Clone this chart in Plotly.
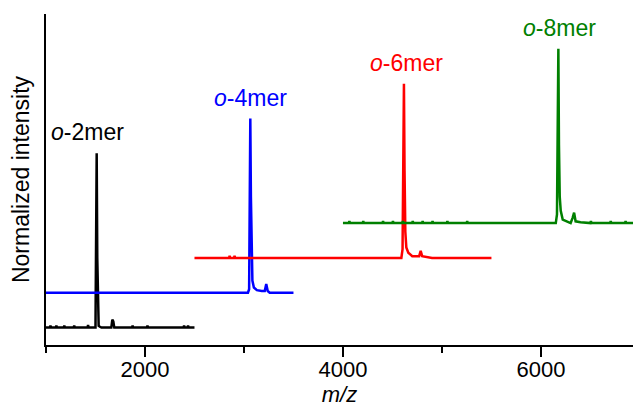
import plotly.graph_objects as go

# m/z and normalized intensity per spectrum (offset applied via offsets list)
names = ["o-2mer", "o-4mer", "o-6mer", "o-8mer"]
colors = ["#000000", "#0000FF", "#FF0000", "#008000"]
offsets = [0.10, 0.30, 0.50, 0.70]

mz_2 = [1000, 1040, 1045, 1050, 1100, 1105, 1110, 1180, 1185, 1190, 1280, 1285, 1290, 1420, 1425, 1430, 1500, 1506, 1512, 1518, 1524, 1532, 1545, 1560, 1600, 1660, 1670, 1680, 1690, 1700, 1870, 1875, 1880, 2020, 2025, 2030, 2390, 2395, 2400, 2430, 2435, 2440, 2500]
in_2 = [0.00, 0.00, 0.012, 0.00, 0.00, 0.012, 0.00, 0.00, 0.012, 0.00, 0.00, 0.012, 0.00, 0.00, 0.015, 0.00, 0.00, 0.50, 1.00, 0.40, 0.05, 0.01, 0.005, 0.00, 0.00, 0.00, 0.045, 0.035, 0.00, 0.00, 0.00, 0.012, 0.00, 0.00, 0.012, 0.00, 0.00, 0.012, 0.00, 0.00, 0.012, 0.00, 0.00]

mz_4 = [1000, 1500, 2000, 2500, 3000, 3040, 3052, 3058, 3064, 3070, 3076, 3085, 3100, 3130, 3180, 3210, 3225, 3240, 3260, 3300, 3400, 3500]
in_4 = [0.00, 0.00, 0.00, 0.00, 0.00, 0.00, 0.02, 0.40, 1.00, 0.55, 0.20, 0.07, 0.03, 0.015, 0.01, 0.01, 0.05, 0.01, 0.00, 0.00, 0.00, 0.00]

mz_6 = [2500, 2850, 2855, 2860, 2900, 2905, 2910, 3000, 3500, 4000, 4200, 4500, 4590, 4602, 4610, 4616, 4622, 4630, 4640, 4660, 4700, 4770, 4785, 4800, 4900, 5100, 5500]
in_6 = [0.00, 0.00, 0.012, 0.00, 0.00, 0.012, 0.00, 0.00, 0.00, 0.00, 0.00, 0.00, 0.00, 0.05, 0.55, 1.00, 0.50, 0.15, 0.06, 0.03, 0.01, 0.01, 0.04, 0.01, 0.00, 0.00, 0.00]

mz_8 = [4000, 4060, 4065, 4070, 4200, 4205, 4210, 4400, 4405, 4410, 4500, 4505, 4510, 4600, 4605, 4610, 4700, 4705, 4710, 4800, 4805, 4810, 4900, 4905, 4910, 5050, 5055, 5060, 5250, 5255, 5260, 5600, 5800, 6000, 6100, 6150, 6162, 6170, 6176, 6182, 6190, 6200, 6220, 6260, 6300, 6320, 6335, 6350, 6400, 6500, 6505, 6510, 6700, 6705, 6710, 6850, 6855, 6860, 7000]
in_8 = [0.00, 0.00, 0.012, 0.00, 0.00, 0.012, 0.00, 0.00, 0.012, 0.00, 0.00, 0.012, 0.00, 0.00, 0.012, 0.00, 0.00, 0.012, 0.00, 0.00, 0.012, 0.00, 0.00, 0.012, 0.00, 0.00, 0.012, 0.00, 0.00, 0.012, 0.00, 0.00, 0.00, 0.00, 0.00, 0.00, 0.05, 0.55, 1.00, 0.45, 0.15, 0.07, 0.02, 0.01, 0.00, 0.03, 0.06, 0.01, 0.005, 0.00, 0.012, 0.00, 0.00, 0.012, 0.00, 0.00, 0.012, 0.00, 0.00]

label_mz = [1420, 3070, 4640, 6185]

x_ticks = [2000, 4000, 6000]

series = [(mz_2, in_2), (mz_4, in_4), (mz_6, in_6), (mz_8, in_8)]

FONT = "Liberation Sans, Arial, sans-serif"

fig = go.Figure()
for (mz, inten), off, col in zip(series, offsets, colors):
    fig.add_trace(go.Scatter(
        x=mz, y=[v + off for v in inten], mode="lines",
        line=dict(color=col, width=2.5), showlegend=False, hoverinfo="skip"))

for name, off, col, lx in zip(names, offsets, colors, label_mz):
    pre, post = name.split("-", 1)
    fig.add_annotation(
        x=lx, y=off + 1.0, text="<i>" + pre + "</i>-" + post,
        showarrow=False, yanchor="bottom", yshift=6,
        font=dict(family=FONT, size=23, color=col))

fig.update_layout(
    width=633, height=412,
    margin=dict(l=46, r=0, t=14, b=67),
    plot_bgcolor="white", paper_bgcolor="white",
    font=dict(family=FONT, size=22, color="black"),
    xaxis=dict(
        range=[1000, 6930], showgrid=False, zeroline=False,
        showline=True, linecolor="black", linewidth=2,
        ticks="outside", tickwidth=2, ticklen=10, tickcolor="black",
        tickvals=x_ticks, ticktext=[str(t) for t in x_ticks],
        tickfont=dict(family=FONT, size=22),
        ticklabelstandoff=-6,
        minor=dict(tickvals=[1000, 3000, 5000], ticks="outside", ticklen=6, tickwidth=2, tickcolor="black"),
        title=dict(text="<i>m/z</i>", font=dict(family=FONT, size=22), standoff=2),
    ),
    yaxis=dict(
        range=[0, 1.9], showgrid=False, zeroline=False,
        showline=True, linecolor="black", linewidth=2,
        ticks="", showticklabels=False,
        title=dict(text="Normalized intensity", font=dict(family=FONT, size=23), standoff=8),
    ),
)

fig.write_html("out.html")
